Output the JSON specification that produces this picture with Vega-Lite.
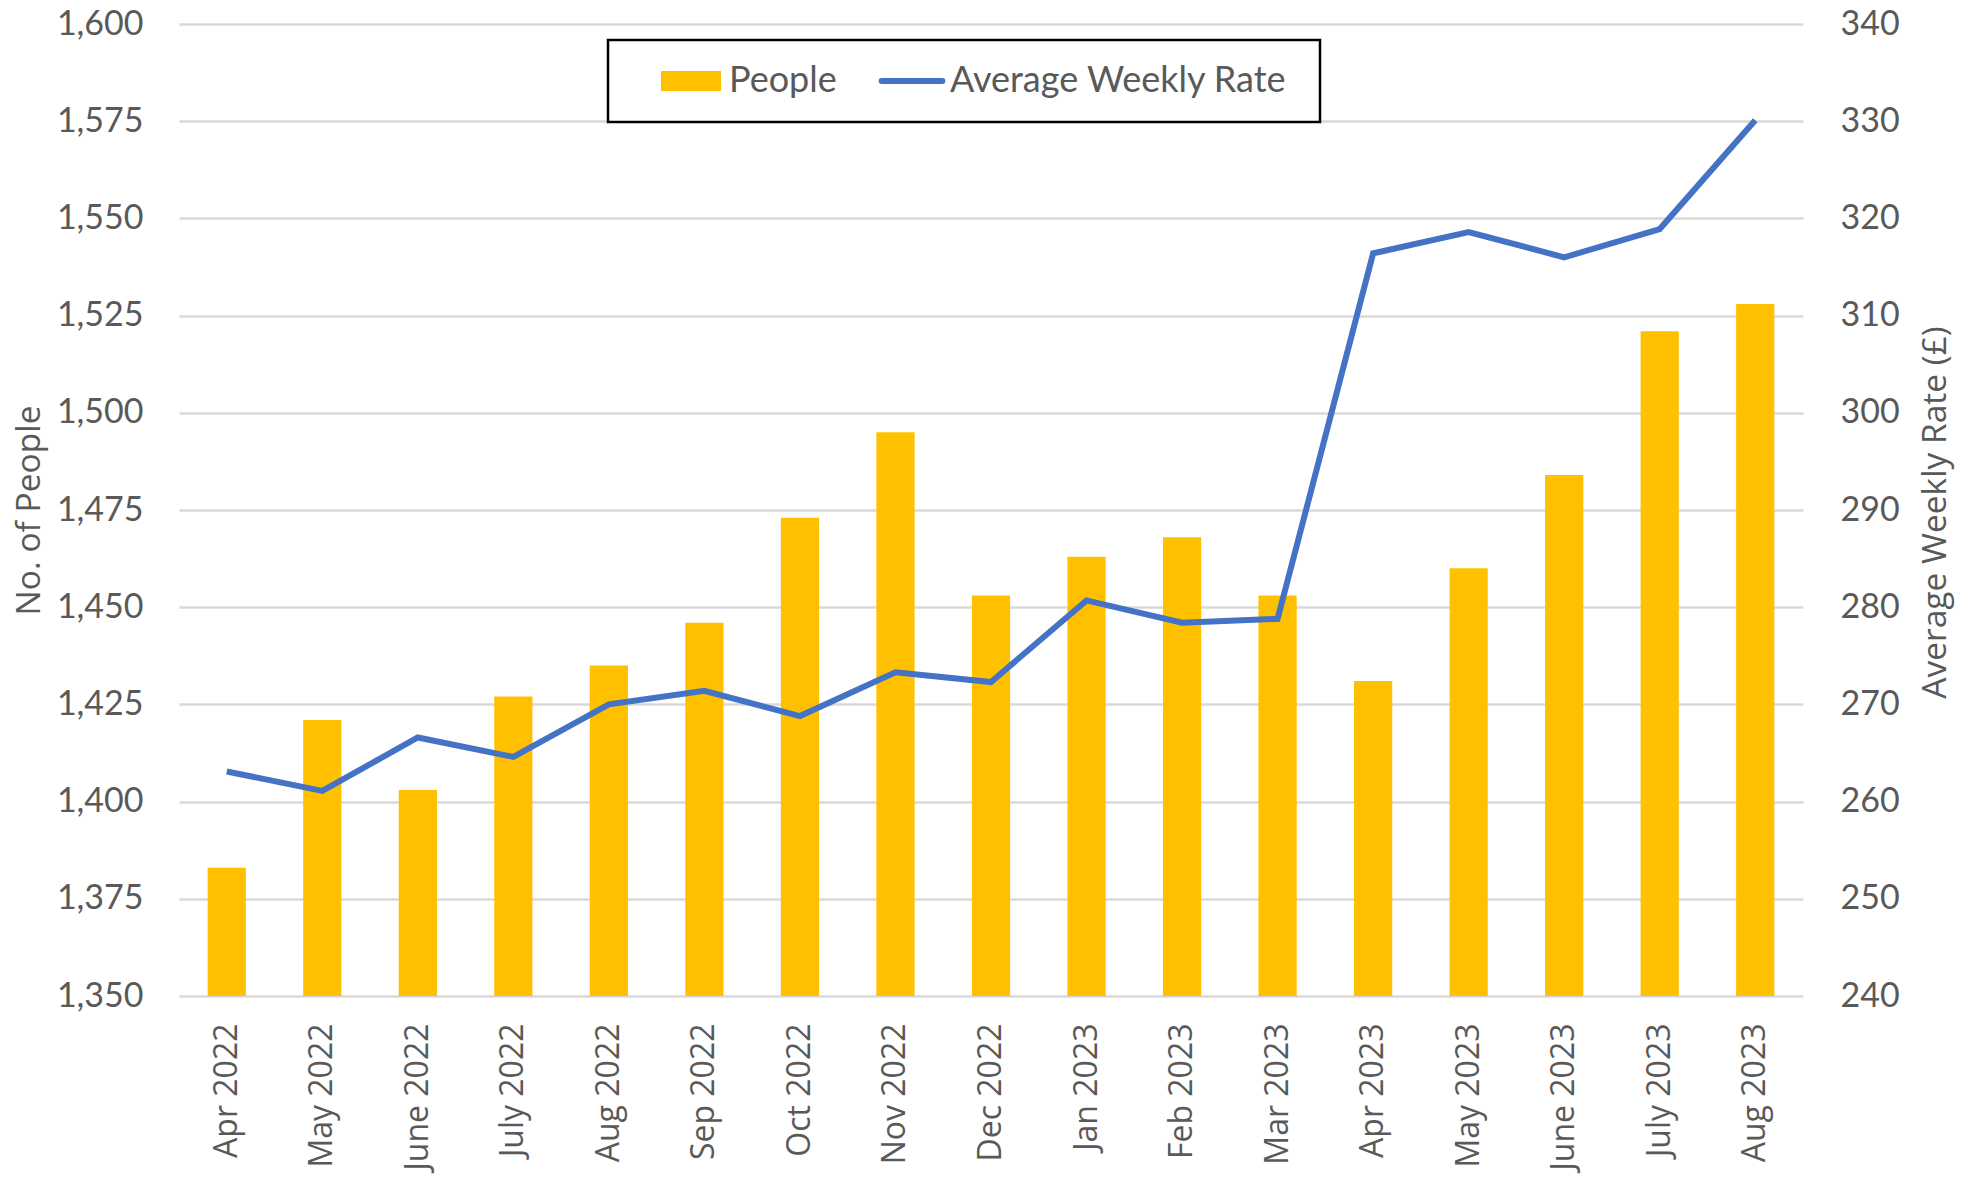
{
  "$schema": "https://vega.github.io/schema/vega-lite/v6.json",
  "width": 1624,
  "height": 972,
  "autosize": {"type": "none"},
  "padding": {"left": 179, "top": 24, "right": 174, "bottom": 188},
  "background": "white",
  "config": {
    "view": {"stroke": null},
    "axis": {"domain": false, "ticks": false, "labelColor": "#595959", "titleColor": "#595959", "titleFontWeight": "normal"}
  },
  "data": {
    "values": [
      {"month": "Apr 2022", "people": 1383, "rate": 263.1},
      {"month": "May 2022", "people": 1421, "rate": 261.1},
      {"month": "June 2022", "people": 1403, "rate": 266.6},
      {"month": "July 2022", "people": 1427, "rate": 264.6},
      {"month": "Aug 2022", "people": 1435, "rate": 270.0},
      {"month": "Sep 2022", "people": 1446, "rate": 271.4},
      {"month": "Oct 2022", "people": 1473, "rate": 268.8},
      {"month": "Nov 2022", "people": 1495, "rate": 273.3},
      {"month": "Dec 2022", "people": 1453, "rate": 272.3},
      {"month": "Jan 2023", "people": 1463, "rate": 280.7},
      {"month": "Feb 2023", "people": 1468, "rate": 278.4},
      {"month": "Mar 2023", "people": 1453, "rate": 278.8},
      {"month": "Apr 2023", "people": 1431, "rate": 316.4},
      {"month": "May 2023", "people": 1460, "rate": 318.6},
      {"month": "June 2023", "people": 1484, "rate": 316.0},
      {"month": "July 2023", "people": 1521, "rate": 318.9},
      {"month": "Aug 2023", "people": 1528, "rate": 330.1}
    ]
  },
  "encoding": {
    "x": {
      "field": "month",
      "type": "nominal",
      "sort": null,
      "scale": {"paddingInner": 0.6, "paddingOuter": 0.3},
      "axis": {
        "title": null,
        "labelAngle": -90,
        "labelFont": "Open Sans",
        "labelFontSize": 32,
        "labelPadding": 27,
        "grid": false
      }
    }
  },
  "layer": [
    {
      "mark": {"type": "bar"},
      "encoding": {
        "y": {
          "field": "people",
          "type": "quantitative",
          "scale": {"domain": [1350, 1600], "zero": false, "nice": false},
          "axis": {
            "title": "No. of People",
            "orient": "left",
            "values": [1350, 1375, 1400, 1425, 1450, 1475, 1500, 1525, 1550, 1575, 1600],
            "format": ",.0f",
            "labelFont": "Lato",
            "labelFontSize": 34,
            "labelPadding": 36,
            "grid": true,
            "gridColor": "#D9D9D9",
            "gridWidth": 2.5,
            "titleFont": "Open Sans",
            "titleFontSize": 33.5,
            "titleX": -150,
            "titleY": 486,
            "titleAngle": -90,
            "titleAlign": "center",
            "titleBaseline": "middle"
          }
        },
        "y2": {"datum": 1350},
        "color": {
          "datum": "People",
          "type": "nominal",
          "scale": {"domain": ["People", "Average Weekly Rate"], "range": ["#FFC000", "#4472C4"]},
          "legend": {
            "orient": "none",
            "legendX": 429,
            "legendY": 16,
            "direction": "horizontal",
            "title": null,
            "strokeColor": "black",
            "fillColor": "white",
            "padding": 23,
            "symbolSize": 4356,
            "symbolOffset": 42,
            "columnPadding": 15,
            "labelOffset": 20,
            "labelFont": "Lato",
            "labelFontSize": 36,
            "labelColor": "#595959",
            "labelLimit": 600,
            "labelExpr": "datum.label == 'People' ? datum.label : datum.label + '\u00a0\u200b'",
            "encode": {
              "legend": {"update": {"strokeWidth": {"value": 2.5}}},
              "symbols": {
                "update": {
                  "shape": {"signal": "datum.value == 'People' ? 'M-0.909,-0.303H0.909V0.303H-0.909Z' : 'M-0.92,0H0.92'"},
                  "fill": {"signal": "datum.value == 'People' ? '#FFC000' : 'transparent'"},
                  "stroke": {"signal": "datum.value == 'People' ? 'transparent' : '#4472C4'"},
                  "strokeWidth": {"signal": "datum.value == 'People' ? 0 : 6"},
                  "strokeCap": {"value": "round"},
                  "opacity": {"value": 1},
                  "fillOpacity": {"value": 1},
                  "strokeOpacity": {"value": 1}
                }
              }
            }
          }
        }
      }
    },
    {
      "mark": {"type": "line", "strokeWidth": 6},
      "encoding": {
        "y": {
          "field": "rate",
          "type": "quantitative",
          "scale": {"domain": [240, 340], "zero": false, "nice": false},
          "axis": {
            "title": "Average Weekly Rate (£)",
            "orient": "right",
            "values": [240, 250, 260, 270, 280, 290, 300, 310, 320, 330, 340],
            "labelFont": "Lato",
            "labelFontSize": 34,
            "labelPadding": 37,
            "grid": false,
            "titleFont": "Open Sans",
            "titleFontSize": 33.5,
            "titleX": 132,
            "titleY": 488,
            "titleAngle": -90,
            "titleAlign": "center",
            "titleBaseline": "middle"
          }
        },
        "color": {"datum": "Average Weekly Rate", "type": "nominal"}
      }
    }
  ],
  "resolve": {"scale": {"y": "independent"}}
}
